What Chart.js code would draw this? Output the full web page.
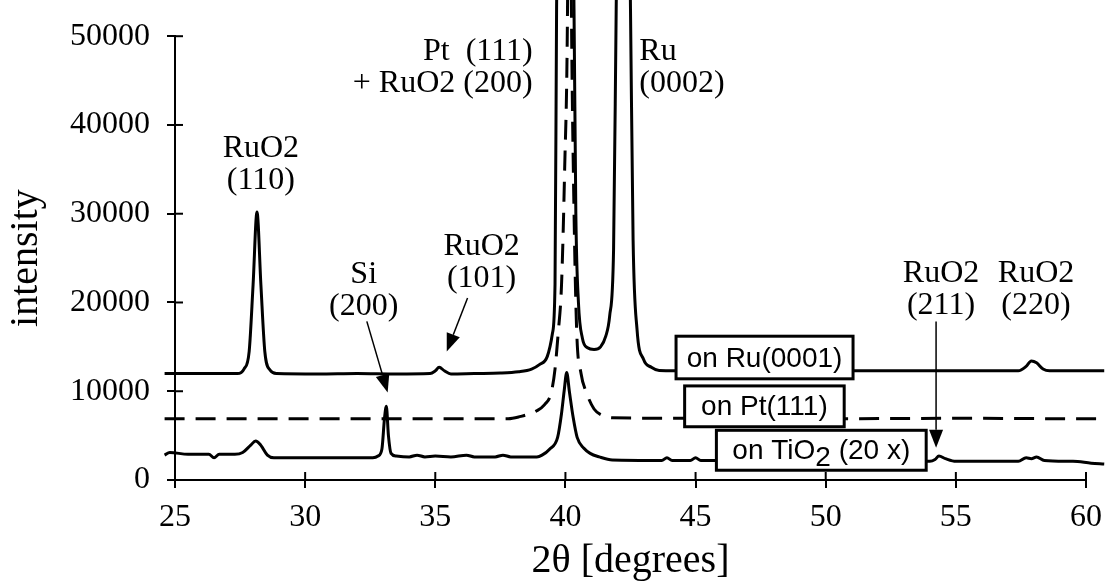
<!DOCTYPE html>
<html>
<head>
<meta charset="utf-8">
<script src="https://cdn.jsdelivr.net/npm/chart.js@4"></script>
<style>
  html, body { margin: 0; padding: 0; background: #fff; }
  #wrap { width: 1112px; height: 587px; }
</style>
</head>
<body>
<div id="wrap"><canvas id="xrd" width="1112" height="587"></canvas></div>
<script>
// 2-theta positions (degrees) and intensities
const ruAngle = [24.6, 26.0, 27.4, 27.65, 27.85, 28.0, 28.15, 28.3, 28.45, 28.65, 28.9, 30.5, 32.0, 33.5, 34.8, 35.0, 35.15, 35.35, 35.6, 36.5, 37.5, 38.2, 38.7, 39.0, 39.3, 39.5, 39.6, 39.66, 39.95, 40.33, 40.4, 40.5, 40.65, 40.85, 41.1, 41.35, 41.55, 41.7, 41.85, 41.95, 42.22, 42.5, 42.6, 42.75, 43.0, 43.3, 43.6, 45.0, 50.0, 55.0, 57.4, 57.7, 57.9, 58.1, 58.35, 58.6, 60.0, 60.7];
const ruIntensity = [12000, 12000, 12000, 12500, 14500, 22000, 30200, 22000, 14500, 12400, 12000, 11950, 12000, 11950, 12000, 12300, 12700, 12300, 11950, 12000, 12050, 12200, 12500, 13000, 13900, 16500, 22000, 53000, 120000, 53000, 30000, 20000, 16000, 14900, 14700, 15000, 16200, 18500, 26000, 53000, 120000, 53000, 27000, 17000, 13600, 12700, 12350, 12300, 12300, 12300, 12300, 12800, 13400, 13200, 12500, 12300, 12300, 12300];

const ptAngle = [24.6, 30.0, 35.0, 37.8, 38.2, 38.9, 39.2, 39.45, 39.6, 39.72, 39.85, 39.97, 40.08, 40.15, 40.23, 40.32, 40.43, 40.6, 40.8, 41.1, 41.4, 41.8, 45.0, 50.0, 55.0, 60.0, 60.7];
const ptIntensity = [6900, 6900, 6900, 6900, 7100, 7800, 8500, 9800, 12500, 16500, 22000, 35000, 53000, 90000, 53000, 32000, 17000, 12000, 9900, 8000, 7300, 7000, 6950, 6900, 6950, 6900, 6900];

const tiAngle = [24.6, 24.8, 25.5, 26.3, 26.5, 26.7, 27.3, 27.6, 27.9, 28.1, 28.3, 28.55, 28.8, 30.5, 32.6, 32.8, 32.95, 33.05, 33.12, 33.2, 33.3, 33.5, 34.0, 34.3, 34.6, 35.0, 35.6, 36.2, 36.5, 37.3, 37.6, 37.9, 38.9, 39.1, 39.4, 39.7, 39.85, 39.95, 40.05, 40.15, 40.3, 40.45, 40.7, 40.95, 41.3, 41.8, 43.7, 43.9, 44.1, 44.8, 45.0, 45.2, 50.0, 54.0, 54.2, 54.35, 54.6, 55.0, 57.4, 57.7, 57.9, 58.1, 58.4, 59.5, 60.2, 60.7];
const tiIntensity = [2800, 3100, 2900, 2900, 2500, 2900, 2900, 3100, 3900, 4400, 3900, 2800, 2500, 2500, 2500, 2700, 3500, 7000, 8300, 5000, 3000, 2700, 2600, 2800, 2600, 2700, 2600, 2800, 2600, 2600, 2800, 2600, 2600, 2800, 3500, 4800, 7500, 10000, 12100, 10000, 7000, 4800, 3600, 3000, 2600, 2250, 2200, 2500, 2200, 2200, 2500, 2200, 2200, 2100, 2300, 2700, 2400, 2100, 2100, 2500, 2400, 2600, 2200, 2100, 1900, 1800];

const xTicks = [25, 30, 35, 40, 45, 50, 55, 60];
const yTicks = [0, 10000, 20000, 30000, 40000, 50000];

function pts(xs, ys) {
    return xs.map((v, i) => ({ x: v, y: ys[i] }));
}

// peak labels, arrows and sample boxes (placed in data coordinates)
const peakNotes = [
    { lines: ['RuO2', '(110)'], x: 28.3, y: 36400, align: 'center' },
    { lines: ['Pt  (111)', '+ RuO2 (200)'], x: 38.74, y: 47300, align: 'right' },
    { lines: ['Ru', '(0002)'], x: 42.84, y: 47300, align: 'left' },
    { lines: ['Si', '(200)'], x: 32.25, y: 22150, align: 'center' },
    { lines: ['RuO2', '(101)'], x: 36.78, y: 25300, align: 'center' },
    { lines: ['RuO2', '(211)'], x: 54.43, y: 22260, align: 'center' },
    { lines: ['RuO2', '(220)'], x: 58.08, y: 22260, align: 'center' }
];
const arrows = [
    { from: [32.37, 17870], to: [33.17, 9870] },
    { from: [36.24, 20500], to: [35.44, 14470] },
    { from: [54.24, 17870], to: [54.24, 3620] }
];
const boxes = [
    { text: ['on Ru(0001)'], x0: 44.25, x1: 51.05, y0: 16200, y1: 11400 },
    { text: ['on Pt(111)'], x0: 44.58, x1: 50.71, y0: 10600, y1: 6000 },
    { text: ['on TiO', '2', ' (20 x)'], x0: 45.8, x1: 53.86, y0: 5600, y1: 1100 }
];

const serif = '"Liberation Serif", "Times New Roman", serif';
const sans = '"Liberation Sans", Arial, sans-serif';

const annot = {
    id: 'annot',
    afterDatasetsDraw(chart) {
        const ctx = chart.ctx;
        const xs = chart.scales.x, ys = chart.scales.y;
        ctx.save();

        // inner half of the crossing tick marks
        ctx.strokeStyle = '#000';
        ctx.lineWidth = 2;
        xTicks.forEach(t => {
            const px = xs.getPixelForValue(t);
            ctx.beginPath();
            ctx.moveTo(px, ys.bottom);
            ctx.lineTo(px, ys.bottom - 8);
            ctx.stroke();
        });
        yTicks.forEach(t => {
            const py = ys.getPixelForValue(t);
            ctx.beginPath();
            ctx.moveTo(xs.left, py);
            ctx.lineTo(xs.left + 8, py);
            ctx.stroke();
        });

        // arrows
        arrows.forEach(a => {
            const x1 = xs.getPixelForValue(a.from[0]), y1 = ys.getPixelForValue(a.from[1]);
            const x2 = xs.getPixelForValue(a.to[0]), y2 = ys.getPixelForValue(a.to[1]);
            const ang = Math.atan2(y2 - y1, x2 - x1);
            const hl = 18, hw = 7;
            const bx = x2 - hl * Math.cos(ang), by = y2 - hl * Math.sin(ang);
            ctx.lineWidth = 1.5;
            ctx.beginPath();
            ctx.moveTo(x1, y1);
            ctx.lineTo(bx, by);
            ctx.stroke();
            ctx.fillStyle = '#000';
            ctx.beginPath();
            ctx.moveTo(x2, y2);
            ctx.lineTo(bx + hw * Math.sin(ang), by - hw * Math.cos(ang));
            ctx.lineTo(bx - hw * Math.sin(ang), by + hw * Math.cos(ang));
            ctx.closePath();
            ctx.fill();
        });

        // sample boxes
        ctx.font = '28px ' + sans;
        ctx.textBaseline = 'alphabetic';
        ctx.textAlign = 'left';
        boxes.forEach(b => {
            const l = xs.getPixelForValue(b.x0), r = xs.getPixelForValue(b.x1);
            const t = ys.getPixelForValue(b.y0), btm = ys.getPixelForValue(b.y1);
            ctx.fillStyle = '#fff';
            ctx.fillRect(l, t, r - l, btm - t);
            ctx.lineWidth = 3;
            ctx.strokeRect(l, t, r - l, btm - t);
            ctx.fillStyle = '#000';
            const w = b.text.reduce((s, p) => s + ctx.measureText(p).width, 0);
            let cx = (l + r) / 2 - w / 2;
            const base = (t + btm) / 2 + 9;
            b.text.forEach((p, i) => {
                // second piece of the TiO2 label is the subscript
                const dy = (b.text.length > 1 && i === 1) ? 7 : 0;
                ctx.fillText(p, cx, base + dy);
                cx += ctx.measureText(p).width;
            });
        });

        // peak labels
        ctx.font = '32px ' + serif;
        ctx.fillStyle = '#000';
        peakNotes.forEach(n => {
            ctx.textAlign = n.align;
            const px = xs.getPixelForValue(n.x);
            const py = ys.getPixelForValue(n.y);
            n.lines.forEach((s, i) => ctx.fillText(s, px, py + i * 32));
        });
        ctx.restore();
    }
};

Chart.defaults.font.family = serif;
Chart.defaults.color = '#000';

const line = (data, dash) => ({
    data: data,
    borderColor: '#000',
    borderWidth: 3,
    borderDash: dash,
    pointRadius: 0,
    fill: false,
    clip: false,
    cubicInterpolationMode: 'monotone'
});

new Chart(document.getElementById('xrd'), {
    type: 'line',
    data: {
        datasets: [
            line(pts(ruAngle, ruIntensity), []),
            line(pts(ptAngle, ptIntensity), [20, 11]),
            line(pts(tiAngle, tiIntensity), [])
        ]
    },
    options: {
        responsive: false,
        animation: false,
        devicePixelRatio: 1,
        layout: { padding: { top: 24, right: 25, left: 0, bottom: 0 } },
        plugins: { legend: { display: false }, tooltip: { enabled: false } },
        scales: {
            x: {
                type: 'linear',
                // range set here so the traces may run past the last tick, as in the scan
                afterDataLimits: s => { s.min = 25; s.max = 60; },
                afterBuildTicks: s => { s.ticks = xTicks.map(v => ({ value: v })); },
                afterFit: s => { s.height = 107; },
                grid: { display: true, drawOnChartArea: false, drawTicks: true, tickLength: 8, color: '#000', lineWidth: 2 },
                border: { display: true, color: '#000', width: 2 },
                ticks: { font: { size: 32 }, padding: 10, maxRotation: 0, callback: v => String(v) },
                title: { display: true, text: '2θ [degrees]', font: { size: 40, lineHeight: 1.2 }, padding: { top: 0, bottom: 2 } }
            },
            y: {
                min: 0, max: 50000,
                afterBuildTicks: s => { s.ticks = yTicks.map(v => ({ value: v })); },
                afterFit: s => { s.width = 175; },
                grid: { display: true, drawOnChartArea: false, drawTicks: true, tickLength: 8, color: '#000', lineWidth: 2 },
                border: { display: true, color: '#000', width: 2 },
                ticks: { font: { size: 32 }, padding: 17, callback: v => String(v) },
                title: { display: true, text: 'intensity', font: { size: 40, lineHeight: 1.2 }, padding: { top: 2, bottom: 0 } }
            }
        }
    },
    plugins: [annot]
});
</script>
</body>
</html>
